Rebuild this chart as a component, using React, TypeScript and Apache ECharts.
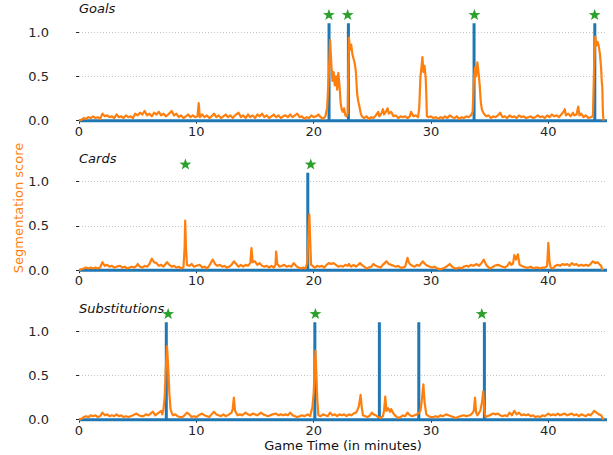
import React, { useEffect, useRef } from "react";
import * as echarts from "echarts";

// ---------- data ----------
const xTicks = [0, 10, 20, 30, 40];
const yTicks = [0, 0.5, 1.0];
const panelTitles = ["Goals", "Cards", "Substitutions"];

// ground-truth event times (minutes)
const goalsTruth = [21.31, 22.96, 33.67, 43.96];
const cardsTruth = [19.5];
const subsTruth = [7.44, 20.1, 25.6, 28.96, 34.55];

// predicted spotting times (minutes)
const goalsPred = [21.3, 22.9, 33.7, 43.95];
const cardsPred = [9.07, 19.75];
const subsPred = [7.6, 20.15, 34.33];

const TRUTH_HEIGHT = 1.1;
const PRED_HEIGHT = 1.2;
const GAME_END = 45;

// segmentation score [minute, score]
const goalsScore: [number, number][] = [
  [0, 0], [0.2, 0.01], [0.4, 0.03], [0.6, 0.02], [0.8, 0.04], [1.0, 0.03], [1.2, 0.05], [1.4, 0.03], [1.6, 0.04], [1.8, 0.02],
  [2.0, 0.08], [2.2, 0.05], [2.4, 0.06], [2.6, 0.04], [2.8, 0.05], [3.0, 0.03], [3.2, 0.07], [3.4, 0.04], [3.6, 0.05], [3.8, 0.03],
  [4.0, 0.06], [4.2, 0.04], [4.4, 0.05], [4.6, 0.03], [4.8, 0.08], [5.0, 0.06], [5.2, 0.09], [5.4, 0.07], [5.6, 0.11], [5.8, 0.06],
  [6.0, 0.08], [6.2, 0.05], [6.4, 0.09], [6.6, 0.07], [6.8, 0.10], [7.0, 0.06], [7.2, 0.08], [7.4, 0.05], [7.6, 0.07], [7.9, 0.11],
  [8.1, 0.06], [8.3, 0.08], [8.5, 0.04], [8.7, 0.06], [8.9, 0.03], [9.1, 0.05], [9.3, 0.07], [9.5, 0.04], [9.7, 0.06], [9.9, 0.04],
  [10.1, 0.05], [10.2, 0.20], [10.3, 0.04], [10.5, 0.07], [10.7, 0.04], [10.9, 0.06], [11.1, 0.03], [11.3, 0.05], [11.5, 0.08], [11.7, 0.04],
  [11.9, 0.06], [12.1, 0.03], [12.3, 0.05], [12.5, 0.07], [12.7, 0.04], [12.9, 0.06], [13.1, 0.03], [13.3, 0.06], [13.6, 0.09], [13.8, 0.04],
  [14.0, 0.06], [14.2, 0.03], [14.4, 0.07], [14.6, 0.04], [14.8, 0.06], [15.0, 0.03], [15.2, 0.07], [15.4, 0.05], [15.6, 0.08], [15.8, 0.04],
  [16.0, 0.06], [16.2, 0.03], [16.4, 0.05], [16.6, 0.07], [16.8, 0.04], [17.0, 0.06], [17.2, 0.03], [17.4, 0.05], [17.6, 0.06], [17.8, 0.04],
  [18.0, 0.07], [18.2, 0.04], [18.4, 0.06], [18.6, 0.08], [18.8, 0.04], [19.0, 0.05], [19.2, 0.02], [19.4, 0.04], [19.6, 0.03], [19.8, 0.06],
  [20.0, 0.04], [20.2, 0.05], [20.4, 0.07], [20.6, 0.04], [20.8, 0.02], [21.0, 0.05], [21.15, 0.15], [21.3, 0.55], [21.4, 0.91], [21.5, 0.65],
  [21.6, 0.45], [21.7, 0.55], [21.8, 0.40], [21.9, 0.50], [22.0, 0.35], [22.1, 0.54], [22.2, 0.40], [22.3, 0.20], [22.4, 0.12], [22.5, 0.10],
  [22.6, 0.14], [22.7, 0.06], [22.8, 0.05], [22.9, 0.08], [23.0, 0.94], [23.1, 0.80], [23.2, 0.86], [23.3, 0.75], [23.4, 0.70], [23.5, 0.65],
  [23.6, 0.55], [23.7, 0.31], [23.8, 0.22], [23.9, 0.16], [24.0, 0.09], [24.1, 0.05], [24.3, 0.03], [24.5, 0.05], [24.7, 0.02], [24.9, 0.04],
  [25.1, 0.03], [25.3, 0.06], [25.5, 0.10], [25.6, 0.05], [25.8, 0.09], [25.9, 0.13], [26.0, 0.07], [26.2, 0.11], [26.3, 0.14], [26.4, 0.08],
  [26.6, 0.10], [26.8, 0.05], [27.0, 0.06], [27.2, 0.03], [27.4, 0.05], [27.6, 0.04], [27.8, 0.05], [28.0, 0.03], [28.2, 0.05], [28.3, 0.10],
  [28.5, 0.05], [28.7, 0.06], [28.9, 0.04], [29.0, 0.15], [29.1, 0.50], [29.2, 0.62], [29.27, 0.72], [29.35, 0.55], [29.45, 0.62], [29.55, 0.48],
  [29.6, 0.30], [29.65, 0.05], [29.8, 0.04], [30.0, 0.05], [30.2, 0.03], [30.4, 0.04], [30.6, 0.02], [30.8, 0.04], [31.0, 0.03], [31.2, 0.05],
  [31.4, 0.03], [31.6, 0.06], [31.8, 0.04], [32.0, 0.03], [32.2, 0.05], [32.4, 0.02], [32.6, 0.04], [32.8, 0.03], [33.0, 0.05], [33.2, 0.04],
  [33.4, 0.06], [33.55, 0.10], [33.65, 0.45], [33.75, 0.60], [33.85, 0.50], [33.95, 0.66], [34.05, 0.55], [34.15, 0.40], [34.25, 0.20], [34.35, 0.12],
  [34.5, 0.08], [34.7, 0.05], [34.9, 0.06], [35.1, 0.03], [35.3, 0.05], [35.5, 0.04], [35.7, 0.06], [35.9, 0.09], [36.1, 0.04], [36.3, 0.05],
  [36.5, 0.03], [36.7, 0.06], [36.9, 0.04], [37.1, 0.05], [37.3, 0.03], [37.5, 0.06], [37.7, 0.04], [37.9, 0.05], [38.1, 0.03], [38.3, 0.04],
  [38.5, 0.05], [38.7, 0.03], [38.9, 0.04], [39.1, 0.06], [39.3, 0.04], [39.5, 0.05], [39.7, 0.03], [39.9, 0.06], [40.1, 0.04], [40.3, 0.07],
  [40.5, 0.05], [40.7, 0.06], [40.9, 0.04], [41.1, 0.07], [41.3, 0.10], [41.4, 0.13], [41.5, 0.06], [41.7, 0.08], [41.9, 0.05], [42.1, 0.09],
  [42.2, 0.06], [42.4, 0.07], [42.55, 0.16], [42.65, 0.06], [42.8, 0.08], [43.0, 0.04], [43.2, 0.06], [43.4, 0.03], [43.6, 0.04], [43.8, 0.05],
  [43.9, 0.60], [44.0, 0.95], [44.1, 0.85], [44.2, 0.89], [44.3, 0.84], [44.4, 0.75], [44.5, 0.59], [44.55, 0.45], [44.6, 0.38], [44.65, 0.10],
  [44.7, 0],
];

const cardsScore: [number, number][] = [
  [0, 0], [0.2, 0.01], [0.4, 0.02], [0.6, 0.03], [0.8, 0.02], [1.0, 0.03], [1.2, 0.02], [1.4, 0.03], [1.6, 0.02], [1.8, 0.03],
  [2.0, 0.09], [2.2, 0.05], [2.4, 0.06], [2.6, 0.04], [2.8, 0.05], [3.0, 0.03], [3.2, 0.04], [3.5, 0.05], [3.7, 0.03], [3.9, 0.04],
  [4.1, 0.02], [4.3, 0.03], [4.5, 0.04], [4.7, 0.03], [4.9, 0.05], [5.0, 0.07], [5.2, 0.04], [5.4, 0.03], [5.6, 0.05], [5.8, 0.04],
  [6.0, 0.07], [6.2, 0.13], [6.4, 0.09], [6.6, 0.08], [6.8, 0.05], [7.0, 0.06], [7.2, 0.04], [7.5, 0.09], [7.7, 0.06], [7.9, 0.04],
  [8.1, 0.05], [8.3, 0.03], [8.5, 0.04], [8.7, 0.02], [8.9, 0.03], [9.0, 0.25], [9.05, 0.56], [9.12, 0.25], [9.2, 0.06], [9.4, 0.05],
  [9.6, 0.07], [9.8, 0.04], [10.0, 0.05], [10.3, 0.06], [10.5, 0.03], [10.7, 0.04], [10.9, 0.02], [11.1, 0.05], [11.4, 0.12], [11.6, 0.07],
  [11.8, 0.05], [12.0, 0.06], [12.2, 0.04], [12.4, 0.05], [12.6, 0.03], [12.8, 0.04], [13.0, 0.06], [13.2, 0.10], [13.4, 0.07], [13.6, 0.04],
  [13.8, 0.06], [14.0, 0.04], [14.2, 0.06], [14.4, 0.05], [14.6, 0.08], [14.7, 0.25], [14.8, 0.09], [15.0, 0.10], [15.2, 0.06], [15.4, 0.08],
  [15.6, 0.05], [15.8, 0.04], [16.0, 0.05], [16.2, 0.03], [16.4, 0.05], [16.6, 0.03], [16.75, 0.06], [16.8, 0.21], [16.9, 0.07], [17.1, 0.04],
  [17.3, 0.05], [17.5, 0.06], [17.7, 0.04], [17.9, 0.05], [18.1, 0.04], [18.3, 0.08], [18.5, 0.05], [18.7, 0.03], [18.9, 0.02], [19.1, 0.03],
  [19.3, 0.02], [19.45, 0.08], [19.55, 0.40], [19.63, 0.63], [19.7, 0.35], [19.78, 0.06], [19.9, 0.05], [20.1, 0.03], [20.3, 0.05], [20.5, 0.04],
  [20.7, 0.05], [20.9, 0.03], [21.1, 0.06], [21.3, 0.08], [21.5, 0.07], [21.7, 0.08], [21.9, 0.06], [22.1, 0.04], [22.3, 0.05], [22.5, 0.04],
  [22.7, 0.06], [22.9, 0.05], [23.0, 0.07], [23.2, 0.04], [23.4, 0.06], [23.6, 0.04], [23.8, 0.06], [23.95, 0.08], [24.1, 0.06], [24.3, 0.04],
  [24.5, 0.02], [24.7, 0.03], [24.9, 0.04], [25.1, 0.07], [25.3, 0.05], [25.5, 0.04], [25.7, 0.03], [25.9, 0.06], [26.2, 0.10], [26.4, 0.07],
  [26.6, 0.06], [26.8, 0.05], [27.0, 0.04], [27.2, 0.05], [27.4, 0.03], [27.6, 0.03], [27.8, 0.04], [28.0, 0.14], [28.1, 0.09], [28.2, 0.07],
  [28.4, 0.05], [28.6, 0.04], [28.8, 0.06], [29.0, 0.05], [29.3, 0.10], [29.5, 0.07], [29.7, 0.05], [29.9, 0.04], [30.1, 0.03], [30.3, 0.04],
  [30.5, 0.02], [30.8, 0.01], [31.0, 0.02], [31.2, 0.03], [31.4, 0.05], [31.6, 0.07], [31.8, 0.04], [32.0, 0.02], [32.2, 0.02], [32.4, 0.03],
  [32.6, 0.02], [32.8, 0.04], [33.05, 0.05], [33.2, 0.04], [33.4, 0.06], [33.6, 0.05], [33.9, 0.07], [34.1, 0.05], [34.3, 0.08], [34.5, 0.12],
  [34.7, 0.06], [35.0, 0.02], [35.2, 0.03], [35.4, 0.05], [35.7, 0.06], [35.9, 0.05], [36.1, 0.04], [36.3, 0.03], [36.5, 0.05], [36.7, 0.09],
  [36.85, 0.06], [37.0, 0.08], [37.1, 0.17], [37.25, 0.12], [37.4, 0.18], [37.55, 0.06], [37.7, 0.05], [37.9, 0.04], [38.1, 0.03], [38.3, 0.03],
  [38.5, 0.04], [38.7, 0.02], [38.9, 0.03], [39.1, 0.03], [39.3, 0.02], [39.5, 0.03], [39.7, 0.03], [39.9, 0.05], [40.0, 0.31], [40.1, 0.10],
  [40.2, 0.03], [40.4, 0.02], [40.6, 0.05], [40.8, 0.06], [41.0, 0.05], [41.2, 0.07], [41.4, 0.06], [41.6, 0.07], [41.8, 0.05], [42.0, 0.08],
  [42.2, 0.06], [42.4, 0.07], [42.6, 0.05], [42.8, 0.06], [43.0, 0.05], [43.2, 0.06], [43.4, 0.05], [43.6, 0.07], [43.8, 0.10], [44.0, 0.08],
  [44.2, 0.09], [44.4, 0.06], [44.5, 0.05], [44.6, 0],
];

const subsScore: [number, number][] = [
  [0, 0], [0.2, 0.01], [0.4, 0.03], [0.6, 0.04], [0.8, 0.03], [1.0, 0.05], [1.2, 0.04], [1.4, 0.05], [1.6, 0.03], [1.8, 0.04],
  [2.0, 0.08], [2.2, 0.05], [2.4, 0.06], [2.6, 0.04], [2.8, 0.05], [3.0, 0.04], [3.2, 0.06], [3.4, 0.04], [3.6, 0.05], [3.8, 0.03],
  [4.0, 0.04], [4.2, 0.03], [4.4, 0.04], [4.6, 0.05], [4.9, 0.07], [5.1, 0.05], [5.3, 0.04], [5.5, 0.04], [5.7, 0.06], [5.9, 0.05],
  [6.1, 0.07], [6.3, 0.09], [6.5, 0.05], [6.6, 0.06], [6.8, 0.08], [7.0, 0.10], [7.1, 0.06], [7.2, 0.12], [7.3, 0.25], [7.4, 0.58],
  [7.5, 0.83], [7.6, 0.60], [7.7, 0.30], [7.8, 0.12], [7.9, 0.08], [8.0, 0.05], [8.2, 0.06], [8.4, 0.04], [8.6, 0.03], [8.8, 0.03],
  [9.0, 0.05], [9.2, 0.08], [9.4, 0.06], [9.6, 0.03], [9.8, 0.04], [10.0, 0.03], [10.2, 0.05], [10.5, 0.07], [10.7, 0.05], [10.9, 0.04],
  [11.1, 0.03], [11.3, 0.06], [11.5, 0.09], [11.7, 0.06], [11.9, 0.05], [12.1, 0.04], [12.3, 0.06], [12.5, 0.04], [12.8, 0.06], [13.0, 0.08],
  [13.1, 0.12], [13.2, 0.25], [13.3, 0.10], [13.5, 0.05], [13.7, 0.06], [13.9, 0.05], [14.2, 0.08], [14.4, 0.06], [14.6, 0.05], [14.8, 0.07],
  [15.0, 0.06], [15.2, 0.05], [15.5, 0.08], [15.7, 0.06], [15.9, 0.05], [16.1, 0.04], [16.3, 0.05], [16.5, 0.06], [16.8, 0.07], [17.0, 0.05],
  [17.2, 0.06], [17.4, 0.05], [17.6, 0.06], [17.8, 0.05], [18.0, 0.08], [18.2, 0.05], [18.4, 0.04], [18.6, 0.03], [18.8, 0.04], [19.0, 0.05],
  [19.2, 0.04], [19.5, 0.06], [19.7, 0.04], [19.9, 0.15], [20.0, 0.30], [20.1, 0.60], [20.15, 0.78], [20.22, 0.55], [20.3, 0.25], [20.4, 0.05],
  [20.6, 0.04], [20.8, 0.06], [21.0, 0.05], [21.2, 0.04], [21.4, 0.08], [21.6, 0.05], [21.8, 0.06], [22.0, 0.04], [22.2, 0.06], [22.4, 0.05],
  [22.6, 0.06], [22.8, 0.04], [23.0, 0.06], [23.2, 0.05], [23.4, 0.07], [23.6, 0.08], [23.7, 0.10], [23.85, 0.15], [24.0, 0.28], [24.1, 0.14],
  [24.2, 0.05], [24.4, 0.04], [24.6, 0.03], [24.8, 0.05], [24.96, 0.08], [25.1, 0.06], [25.3, 0.05], [25.5, 0.03], [25.7, 0.02], [25.9, 0.04],
  [26.0, 0.10], [26.1, 0.26], [26.2, 0.10], [26.35, 0.13], [26.5, 0.09], [26.6, 0.12], [26.8, 0.07], [27.0, 0.04], [27.2, 0.02], [27.4, 0.03],
  [27.6, 0.05], [27.8, 0.04], [28.0, 0.08], [28.2, 0.05], [28.4, 0.04], [28.6, 0.05], [28.8, 0.06], [29.0, 0.08], [29.1, 0.10], [29.2, 0.20],
  [29.35, 0.40], [29.45, 0.20], [29.6, 0.06], [29.8, 0.04], [30.0, 0.03], [30.2, 0.03], [30.4, 0.04], [30.6, 0.03], [30.8, 0.05], [31.0, 0.04],
  [31.3, 0.06], [31.5, 0.05], [31.7, 0.04], [31.9, 0.03], [32.1, 0.02], [32.3, 0.03], [32.5, 0.04], [32.8, 0.05], [33.0, 0.04], [33.3, 0.05],
  [33.5, 0.07], [33.65, 0.10], [33.75, 0.25], [33.85, 0.08], [33.95, 0.05], [34.1, 0.08], [34.2, 0.10], [34.35, 0.20], [34.45, 0.32], [34.55, 0.10],
  [34.65, 0.03], [34.8, 0.04], [35.0, 0.05], [35.3, 0.07], [35.5, 0.06], [35.7, 0.07], [35.9, 0.05], [36.1, 0.04], [36.3, 0.05], [36.5, 0.04],
  [36.7, 0.08], [36.9, 0.05], [37.1, 0.10], [37.3, 0.06], [37.5, 0.08], [37.7, 0.05], [37.9, 0.06], [38.1, 0.05], [38.3, 0.06], [38.5, 0.04],
  [38.7, 0.05], [38.9, 0.03], [39.1, 0.04], [39.3, 0.03], [39.5, 0.05], [39.7, 0.04], [40.0, 0.07], [40.2, 0.05], [40.4, 0.06], [40.6, 0.05],
  [40.8, 0.07], [41.0, 0.05], [41.2, 0.06], [41.4, 0.07], [41.6, 0.05], [41.8, 0.06], [42.0, 0.07], [42.2, 0.05], [42.4, 0.06], [42.6, 0.04],
  [42.8, 0.06], [43.0, 0.05], [43.2, 0.04], [43.4, 0.06], [43.6, 0.05], [43.8, 0.08], [43.9, 0.10], [44.1, 0.08], [44.3, 0.06], [44.5, 0.05],
  [44.7, 0],
];

const scores = [goalsScore, cardsScore, subsScore];
const truths = [goalsTruth, cardsTruth, subsTruth];
const preds = [goalsPred, cardsPred, subsPred];

// ---------- layout / style ----------
const FONT = "'DejaVu Sans', sans-serif";
const TEXT = "#262626";
const BLUE = "#1f77b4";
const ORANGE = "#ff7f0e";
const GREEN = "#2ca02c";
const ZERO_Y = [120.7, 270.2, 419.7];
const PX_PER_UNIT = 88.5;
const Y_MAX = 1.3;
const TITLE_Y = [10, 160, 310];
const STAR =
  "path://M0,-10L2.35,-3.24L9.51,-3.09L3.8,1.24L5.88,8.09L0,4L-5.88,8.09L-3.8,1.24L-9.51,-3.09L-2.35,-3.24Z";

function truthLine(events: number[]): [number, number][] {
  const out: [number, number][] = [[0, 0]];
  events.forEach((t) => {
    out.push([t, 0], [t, TRUTH_HEIGHT], [t, 0]);
  });
  out.push([GAME_END, 0]);
  return out;
}

export default function App() {
  const ref = useRef<HTMLDivElement>(null);
  useEffect(() => {
    if (!ref.current) return;
    const chart = echarts.init(ref.current, null, { renderer: "svg" });
    const grids = ZERO_Y.map((z) => ({
      left: 79,
      width: 528,
      top: z - Y_MAX * PX_PER_UNIT,
      height: Y_MAX * PX_PER_UNIT,
    }));
    const xAxes = ZERO_Y.map((_, i) => ({
      type: "value",
      gridIndex: i,
      min: 0,
      max: GAME_END,
      interval: 10,
      axisLine: { show: false },
      axisTick: { show: true, length: 3, customValues: xTicks, lineStyle: { color: TEXT, width: 1 } },
      axisLabel: { customValues: xTicks, fontSize: 13, color: TEXT, fontFamily: FONT, margin: 4 },
      splitLine: { show: false },
    }));
    const yAxes = ZERO_Y.map((_, i) => ({
      type: "value",
      gridIndex: i,
      min: 0,
      max: Y_MAX,
      offset: 26,
      axisLine: { show: false },
      axisTick: { show: true, length: 3, customValues: yTicks, lineStyle: { color: TEXT, width: 1 } },
      axisLabel: {
        customValues: yTicks,
        formatter: (v: number) => v.toFixed(1),
        fontSize: 13,
        color: TEXT,
        fontFamily: FONT,
        margin: 4,
      },
      splitLine: { show: false },
    }));
    const series: any[] = [];
    scores.forEach((score, i) => {
      series.push({
        type: "line",
        xAxisIndex: i,
        yAxisIndex: i,
        data: truthLine(truths[i]),
        symbol: "none",
        clip: false,
        lineStyle: { color: BLUE, width: 3 },
        z: 2,
        markLine: {
          silent: true,
          symbol: ["none", "none"],
          label: { show: false },
          lineStyle: { color: "#c4c4c4", type: [1, 2], width: 1 },
          data: [{ yAxis: 0.5 }, { yAxis: 1.0 }],
          z: 1,
        },
      });
      series.push({
        type: "line",
        xAxisIndex: i,
        yAxisIndex: i,
        data: score,
        symbol: "none",
        clip: false,
        lineStyle: { color: ORANGE, width: 2.2, join: "round" },
        z: 3,
      });
      series.push({
        type: "scatter",
        xAxisIndex: i,
        yAxisIndex: i,
        data: preds[i].map((t) => [t, PRED_HEIGHT]),
        symbol: STAR,
        symbolSize: [12, 11],
        itemStyle: { color: GREEN, opacity: 1 },
        z: 4,
      });
    });
    const graphics: any[] = panelTitles.map((t, i) => ({
      type: "text",
      left: 79,
      top: TITLE_Y[i] - 8,
      style: { text: t, fontSize: 13, fontStyle: "italic", fontFamily: FONT, fill: "#111" },
    }));
    graphics.push({
      type: "text",
      x: 343,
      y: 445,
      style: {
        text: "Game Time (in minutes)",
        fontSize: 13,
        fontFamily: FONT,
        fill: "#111",
        align: "center",
        verticalAlign: "middle",
      },
    });
    graphics.push({
      type: "text",
      x: 18,
      y: 208,
      rotation: Math.PI / 2,
      style: {
        text: "Segmentation score",
        fontSize: 13,
        fontFamily: FONT,
        fill: ORANGE,
        align: "center",
        verticalAlign: "middle",
      },
    });
    chart.setOption({
      animation: false,
      backgroundColor: "#fff",
      grid: grids,
      xAxis: xAxes,
      yAxis: yAxes,
      series,
      graphic: graphics,
    });
    return () => chart.dispose();
  }, []);
  return (
    <div
      ref={ref}
      style={{ position: "fixed", left: 0, top: 0, width: 613, height: 455 }}
    />
  );
}
